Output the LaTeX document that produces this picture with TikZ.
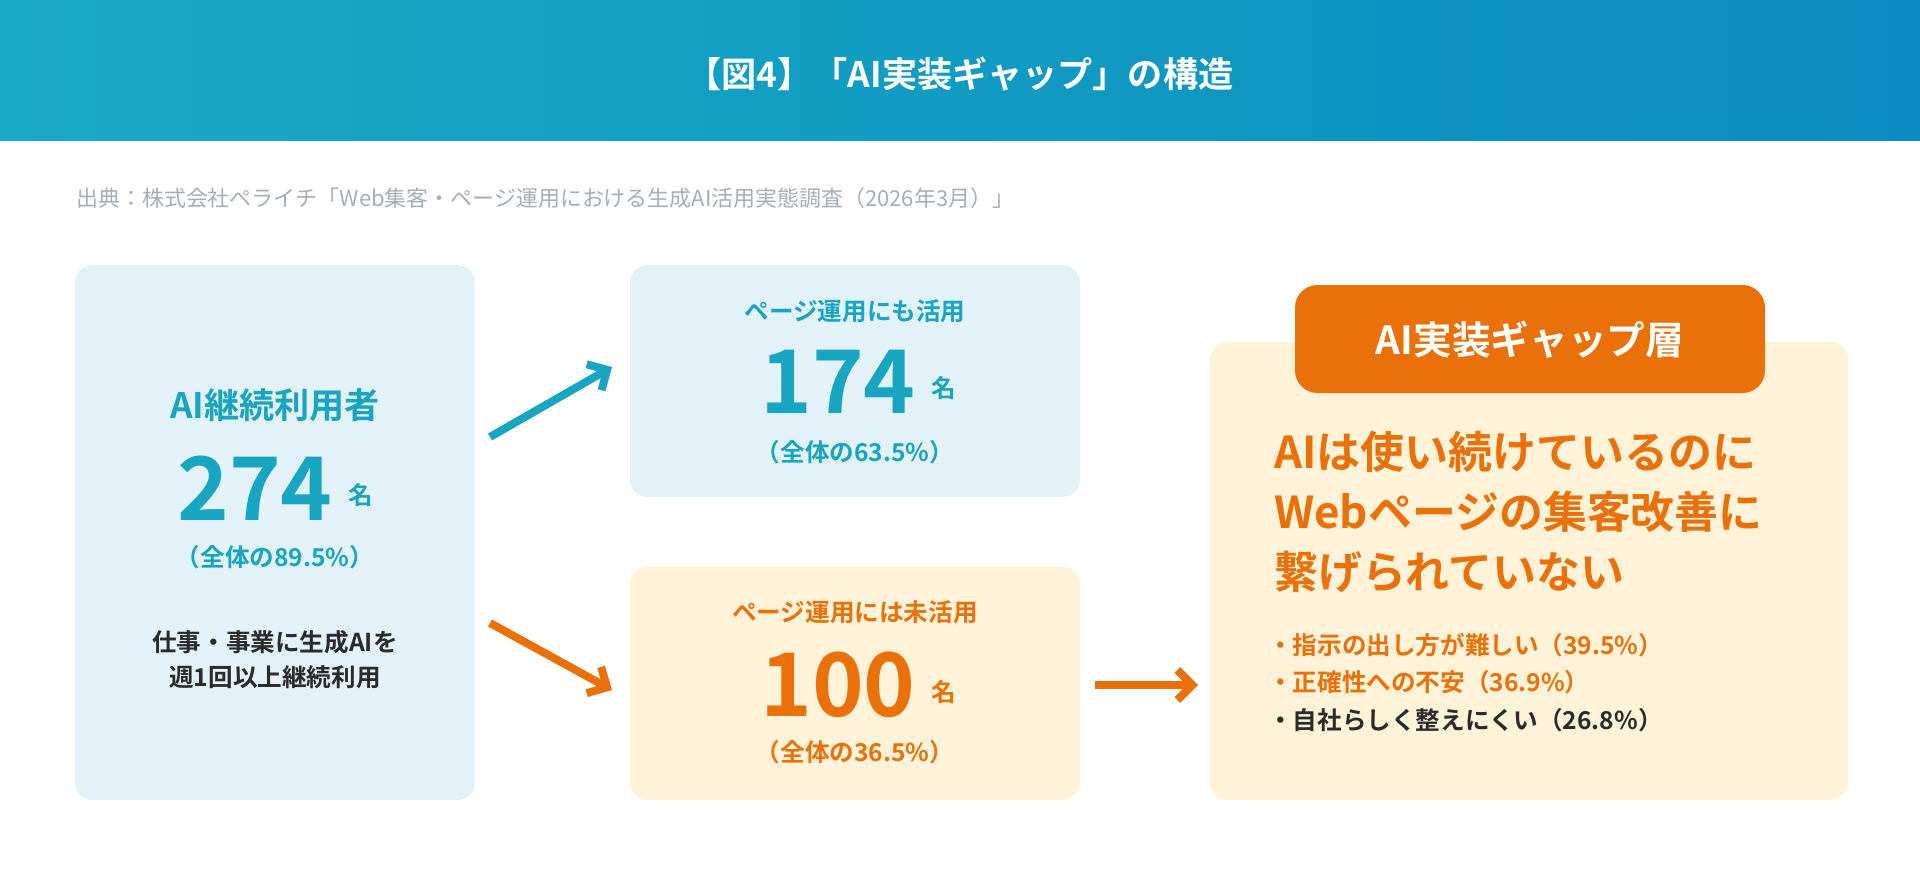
\documentclass[tikz,border=0pt]{standalone}
\usepackage{fontspec}
\setmainfont{Noto Sans CJK JP}
\newfontfamily\jpbold{Noto Sans CJK JP Bold}
\usetikzlibrary{arrows.meta, positioning}
\definecolor{teal}{HTML}{17A5C2}
\definecolor{hdrL}{HTML}{19AAC6}
\definecolor{hdrR}{HTML}{0A8CC0}
\definecolor{orng}{HTML}{EA7009}
\definecolor{bluebg}{HTML}{E3F2F8}
\definecolor{yelbg}{HTML}{FEF3D8}
\definecolor{srcgray}{HTML}{A3AEB5}
\definecolor{ink}{HTML}{2B2B2B}
\tikzset{
  box/.style={rounded corners=0.35cm, draw=none},
  num/.style={font=\jpbold\fontsize{50}{50}\selectfont},
  unit/.style={font=\jpbold\fontsize{14}{14}\selectfont},
  sub/.style={font=\jpbold\fontsize{14}{14}\selectfont},
  flow/.style={line width=1.6mm, -{Straight Barb[length=3mm,width=6mm]}}
}
\begin{document}
\begin{tikzpicture}[x=0.02cm, y=-0.02cm]
  \useasboundingbox (0,0) rectangle (1920,875);
  % header
  \shade[left color=hdrL, right color=hdrR] (0,0) rectangle (1920,140);
  \node[text=white, font=\jpbold\fontsize{20}{20}\selectfont] (title) at (960,74) {【図4】「AI実装ギャップ」の構造};
  \node[anchor=west, text=srcgray, font=\fontsize{12.5}{12.5}\selectfont] (src) at (70,198)
    {出典：株式会社ペライチ「Web集客・ページ運用における生成AI活用実態調査（2026年3月）」};

  % boxes
  \fill[box, bluebg] (75,265) rectangle (475,800);
  \fill[box, bluebg] (630,265) rectangle (1080,497);
  \fill[box, yelbg] (630,567) rectangle (1080,800);
  \fill[box, yelbg] (1210,342) rectangle (1848,800);

  % left box
  \node[text=teal, font=\jpbold\fontsize{20}{20}\selectfont] (users) at (275,405) {AI継続利用者};
  \node[text=teal, num] (n274) at (255,488) {274};
  \node[text=teal, unit, right=2pt of n274.south east, anchor=south west, yshift=8pt] (u274) {名};
  \node[text=teal, sub] (p274) at (275,557) {（全体の89.5\%）};
  \node[text=ink, font=\jpbold\fontsize{14}{20}\selectfont, align=center] (desc) at (275,660)
    {仕事・事業に生成AIを\\週1回以上継続利用};

  % top middle
  \node[text=teal, sub] (use) at (855,311) {ページ運用にも活用};
  \node[text=teal, num] (n174) at (838,382) {174};
  \node[text=teal, unit, right=2pt of n174.south east, anchor=south west, yshift=8pt] (u174) {名};
  \node[text=teal, sub] (p174) at (855,452) {（全体の63.5\%）};

  % bottom middle
  \node[text=orng, sub] (nouse) at (855,612) {ページ運用には未活用};
  \node[text=orng, num] (n100) at (838,685) {100};
  \node[text=orng, unit, right=2pt of n100.south east, anchor=south west, yshift=8pt] (u100) {名};
  \node[text=orng, sub] (p100) at (855,752) {（全体の36.5\%）};

  % right box
  \fill[rounded corners=0.45cm, orng] (1295,285) rectangle (1765,393);
  \node[text=white, font=\jpbold\fontsize{22}{22}\selectfont] (gap) at (1530,340) {AI実装ギャップ層};
  \node[anchor=north west, text=orng, align=left, font=\jpbold\fontsize{25}{34}\selectfont] (msg) at (1268,425)
    {AIは使い続けているのに\\Webページの集客改善に\\繋げられていない};
  \node[anchor=west, text=orng, sub] (b1) at (1262,645) {・指示の出し方が難しい（39.5\%）};
  \node[anchor=west, text=orng, sub] (b2) at (1262,682) {・正確性への不安（36.9\%）};
  \node[anchor=west, text=ink, sub] (b3) at (1262,720) {・自社らしく整えにくい（26.8\%）};

  % arrows
  \coordinate (a1s) at (490,437); \coordinate (a1e) at (612,367);
  \coordinate (a2s) at (490,623); \coordinate (a2e) at (612,690);
  \coordinate (a3s) at (1095,685); \coordinate (a3e) at (1198,685);
  \draw[flow, teal] (a1s) -- (a1e);
  \draw[flow, orng] (a2s) -- (a2e);
  \draw[flow, orng] (a3s) -- (a3e);
\end{tikzpicture}
\end{document}
